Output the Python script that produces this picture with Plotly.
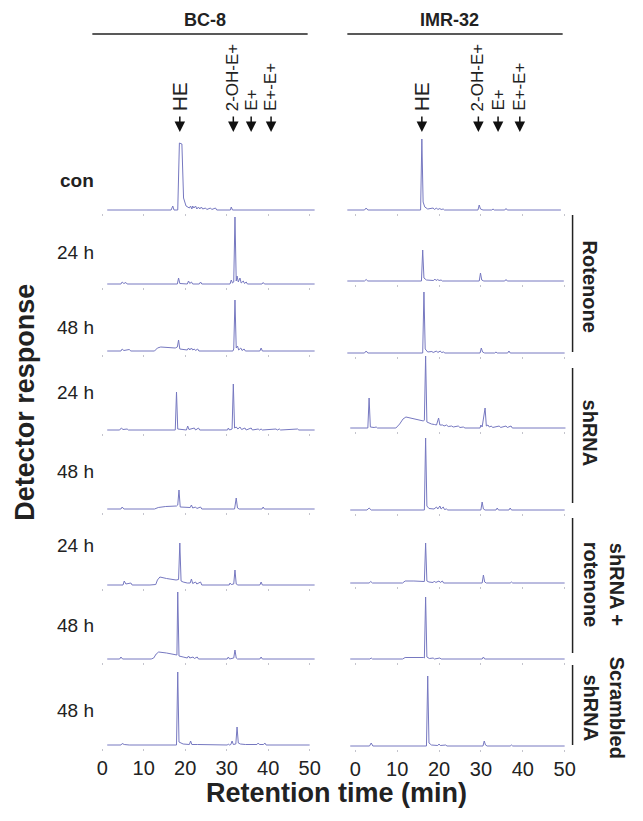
import plotly.graph_objects as go

# chromatograms: (retention time in min, detector response)
BC8_CON = [(1.2, 0), (16.6, 0), (17.0, 4), (17.3, 0), (18.2, 0), (18.6, 67), (19.2, 66), (19.6, 12), (20.2, 4),
           (21.0, 2), (21.3, 4), (21.6, 1), (21.8, 4), (22.1, 2), (22.5, 4), (22.8, 1), (23.2, 3), (23.5, 1),
           (23.9, 3), (24.2, 1), (24.9, 2), (25.2, 0.5), (26.1, 2), (26.4, 0.5), (27.3, 2), (27.6, 0),
           (30.9, 0), (31.1, 3), (31.4, 0), (51.2, 0)]
BC8_ROT24 = [(1.2, 0), (4.5, 0), (4.8, 2), (5.2, 0.5), (5.7, 1.5), (6.0, 0), (18.1, 0), (18.4, 6), (18.7, 0.5),
             (20.5, 0), (20.8, 3), (21.1, 0.5), (21.5, 2), (21.8, 0), (23.4, 0), (23.7, 2), (24.0, 0),
             (30.8, 0), (31.1, 4), (31.4, 1), (31.7, 2), (32.0, 67), (32.3, 3), (32.5, 8), (32.8, 2), (33.2, 6),
             (33.5, 1), (34.0, 3), (34.3, 0.5), (34.7, 2), (35.0, 0), (38.5, 0), (38.8, 1.5), (39.1, 0), (51.2, 0)]
BC8_ROT48 = [(1.2, 0), (4.5, 0), (4.8, 2), (5.2, 0.5), (6.5, 1.5), (6.9, 0), (12.6, 0), (13.3, 3), (14.1, 4),
             (15.5, 3.5), (17.6, 3), (18.1, 4), (18.4, 11), (18.7, 2), (19.5, 1.5), (20.5, 1), (20.8, 3),
             (21.1, 1), (21.5, 3), (21.8, 1), (22.2, 2), (22.5, 0.5), (23.0, 2), (23.3, 0), (31.5, 0), (31.7, 2),
             (32.0, 51), (32.3, 3), (32.6, 5), (32.9, 1), (33.4, 3), (33.7, 0.5), (34.2, 2), (34.5, 0),
             (38.0, 0), (38.3, 3), (38.6, 0), (51.2, 0)]
BC8_SH24 = [(1.2, 0), (4.2, 0), (4.6, 2), (5.0, 0.5), (6.0, 1), (6.3, 0), (17.6, 0), (17.9, 38), (18.2, 1),
            (20.3, 0), (20.6, 4), (20.9, 0.5), (22.2, 2), (22.5, 0), (23.2, 2), (23.5, 0), (30.2, 0), (30.4, 2),
            (30.7, 0), (31.3, 1), (31.6, 46), (31.9, 2), (32.3, 3), (32.7, 1), (33.2, 3), (33.6, 0.5),
            (34.4, 2), (34.7, 0), (35.9, 2), (36.2, 0), (37.6, 1), (37.9, 0), (38.3, 1), (38.6, 0),
            (41.9, 1), (42.2, 0), (42.7, 1), (43.0, 0), (47.1, 1), (47.4, 0), (51.2, 0)]
BC8_SH48 = [(1.2, 0), (4.5, 0), (4.8, 2), (5.2, 0), (12.6, 0), (13.5, 1.5), (15.3, 2.5), (17.9, 3), (18.2, 4),
            (18.5, 19), (18.8, 2), (21.2, 1.5), (21.5, 4), (21.8, 1), (22.5, 2), (22.8, 0.5), (23.7, 2),
            (24.0, 0), (31.9, 0), (32.3, 11), (32.6, 1), (33.0, 0), (38.5, 0), (38.8, 2), (39.1, 0), (51.2, 0)]
BC8_SHROT24 = [(1.2, 0), (5.0, 0), (5.3, 4), (5.7, 1), (6.9, 2), (7.2, 0), (11.5, 0), (12.9, 0.5), (13.3, 5),
               (13.9, 8), (15.5, 6.5), (17.8, 5), (18.4, 5.5), (18.7, 42), (19.0, 4), (19.5, 3), (20.5, 2),
               (21.2, 2), (21.5, 6), (21.8, 1.5), (22.5, 3), (22.8, 1), (23.7, 3), (24.0, 0), (30.6, 0),
               (30.8, 2), (31.1, 0.5), (31.7, 1), (32.0, 15), (32.3, 1), (32.7, 0), (38.0, 0), (38.3, 3),
               (38.6, 0), (51.2, 0)]
BC8_SHROT48 = [(1.2, 0), (4.2, 0), (4.5, 2), (4.9, 0), (11.8, 0), (12.4, 1), (13.0, 5), (13.6, 7), (15.5, 6),
               (17.6, 4.5), (18.0, 4), (18.2, 67), (18.5, 3), (19.5, 2), (20.5, 1), (20.8, 3), (21.1, 1),
               (21.9, 2), (22.2, 0.5), (22.9, 2), (23.2, 0), (30.1, 0), (30.4, 2), (30.7, 0), (31.7, 1),
               (32.0, 9), (32.3, 1), (32.6, 0), (38.0, 0), (38.3, 2), (38.6, 0), (51.2, 0)]
BC8_SCR48 = [(1.2, 0), (4.5, 0), (4.8, 1.5), (5.3, 0.5), (6.5, 0), (17.9, 0), (18.2, 73), (18.5, 3), (19.5, 1),
             (21.0, 0.5), (21.3, 4), (21.6, 0.5), (23.0, 0.5), (30.2, 0), (30.4, 1), (30.7, 0), (31.0, 0.5),
             (31.3, 4), (31.6, 0.5), (32.2, 1), (32.5, 18), (32.8, 2), (33.3, 1), (34.5, 0.5), (37.3, 0.5),
             (37.6, 2), (37.9, 0.5), (38.9, 0.5), (39.2, 2), (39.5, 0), (50.0, 0)]

IMR_CON = [(-1.9, 0), (2.2, 0), (2.6, 2), (3.0, 0), (15.6, 0), (15.9, 71), (16.2, 8), (16.6, 3), (17.3, 1),
           (18.6, 2), (18.9, 0.5), (19.4, 2), (19.7, 0.5), (20.2, 1.5), (20.5, 0.5), (21.0, 1), (21.3, 0),
           (29.3, 0), (29.6, 5), (29.9, 1), (30.5, 0), (32.6, 0), (32.9, 1), (33.2, 0), (35.7, 0), (36.0, 1.5),
           (36.3, 0), (49.1, 0)]
IMR_ROT24 = [(-1.9, 0), (2.2, 0), (2.6, 1.5), (3.0, 0), (15.8, 0), (16.1, 31), (16.4, 3), (17.0, 1), (18.7, 0.5),
             (19.0, 2), (19.3, 0.5), (19.7, 1.5), (20.0, 0.5), (20.5, 1), (20.8, 0), (29.6, 0), (29.9, 8),
             (30.2, 1), (30.7, 0), (35.7, 0), (36.0, 1.5), (36.3, 0), (49.8, 0)]
IMR_ROT48 = [(-1.9, 0), (2.2, 0), (2.6, 2), (3.0, 0), (16.1, 0), (16.4, 61), (16.7, 4), (17.3, 1), (18.3, 1.5),
             (18.6, 0.5), (19.4, 2), (19.7, 0.5), (20.3, 2), (20.6, 0.5), (21.1, 1), (21.4, 0), (29.8, 0),
             (30.1, 5), (30.4, 1), (30.9, 0), (33.3, 0), (33.6, 1), (33.9, 0), (36.4, 0), (36.7, 2), (37.0, 0),
             (50.0, 0)]
IMR_SH24 = [(-1.2, 0), (3.0, 0), (3.3, 30), (3.6, 1), (4.5, 0.5), (5.0, 1), (5.3, 0), (9.7, 0), (10.6, 4),
            (11.4, 9), (12.1, 11), (13.5, 9.5), (15.0, 8), (16.3, 7), (16.5, 8), (16.8, 72), (17.1, 6),
            (17.6, 5), (18.2, 4), (18.9, 3.5), (19.4, 3), (19.9, 10), (20.2, 3), (20.9, 3), (21.2, 2),
            (21.8, 3), (22.2, 1.5), (23.0, 2), (23.4, 1), (24.6, 2), (25.0, 0.5), (25.8, 1), (26.2, 0),
            (29.8, 0), (30.0, 3), (30.3, 1), (31.0, 20), (31.3, 2), (31.7, 3), (32.0, 1), (32.5, 2),
            (32.8, 0.5), (34.4, 2), (34.7, 0.5), (36.0, 2), (36.3, 0.5), (37.2, 2), (37.5, 0), (50.2, 0)]
IMR_SH48 = [(-1.2, 0), (2.8, 0), (3.3, 2), (3.8, 0), (16.5, 0), (16.8, 72), (17.1, 4), (17.6, 1.5), (18.8, 1),
            (19.4, 3), (19.7, 1), (20.2, 4), (20.5, 1), (21.0, 3), (21.3, 0.5), (21.8, 1), (22.1, 0), (30.0, 0),
            (30.3, 8), (30.6, 1), (31.0, 0), (33.6, 0), (33.9, 2), (34.2, 0), (36.7, 0), (37.0, 2), (37.3, 0),
            (50.0, 0)]
IMR_SHROT24 = [(-1.2, 0), (3.3, 0), (3.7, 1.5), (4.1, 0), (11.3, 0), (11.9, 2), (14.0, 2), (16.3, 1.5),
               (16.5, 1.5), (16.8, 40), (17.1, 2), (17.6, 1), (18.6, 0.5), (18.9, 2), (19.2, 0.5), (20.0, 2),
               (20.3, 0.5), (20.8, 2), (21.1, 0), (30.3, 0), (30.6, 8), (30.9, 1), (31.3, 0), (37.0, 0),
               (37.3, 1), (37.6, 0), (50.0, 0)]
IMR_SHROT48 = [(-1.2, 0), (3.5, 0), (3.8, 1), (4.1, 0), (11.3, 0), (11.9, 1.5), (16.3, 1.5), (16.5, 1),
               (16.8, 62), (17.1, 2), (17.7, 0.5), (18.6, 1), (18.9, 0), (20.2, 1), (20.5, 0), (30.3, 0),
               (30.6, 2), (30.9, 0), (50.0, 0)]
IMR_SCR48 = [(-1.2, 0), (3.4, 0), (3.8, 3), (4.2, 0), (17.0, 0), (17.3, 70), (17.6, 3), (18.2, 1), (19.7, 0.5),
             (20.0, 2), (20.3, 0.5), (21.6, 1), (21.9, 0), (30.5, 0), (30.8, 5), (31.1, 1), (31.5, 0), (37.0, 0),
             (37.3, 1), (37.6, 0), (50.0, 0)]

cell_lines = ["BC-8", "IMR-32"]
row_labels = ["con", "24 h", "48 h", "24 h", "48 h", "24 h", "48 h", "48 h"]
bc8_traces = [BC8_CON, BC8_ROT24, BC8_ROT48, BC8_SH24, BC8_SH48, BC8_SHROT24, BC8_SHROT48, BC8_SCR48]
imr_traces = [IMR_CON, IMR_ROT24, IMR_ROT48, IMR_SH24, IMR_SH48, IMR_SHROT24, IMR_SHROT48, IMR_SCR48]
compounds = ["HE", "2-OH-E+", "E+", "E+-E+"]
bc8_marks = [18.7, 31.6, 35.9, 40.7]
imr_marks = [15.9, 29.4, 34.1, 39.3]
groups = ["Rotenone", "shRNA", "shRNA +<br>rotenone", "Scrambled<br>shRNA"]
time_ticks = [0, 10, 20, 30, 40, 50]

W, H = 643, 821
OFF = 8  # the page body adds an 8 px margin
FONT = "Liberation Sans, Arial, sans-serif"
LINE = "rgb(118,120,192)"


def px(p):
    return (p - OFF) / W


def py(p):
    return 1 - (p - OFF) / H


def ax_name(n):
    return "" if n == 1 else str(n)


# pixel layout of the two columns (x=0 min position, px per minute) and row baselines
col_zero = [103, 358]
col_scale = [4.18, 4.22]
col_base = [[210, 284, 351, 430, 509, 585, 659, 745],
            [210, 281, 353, 428, 510, 583, 659, 746]]
xr = [-2.5, 51.5]

fig = go.Figure()
layout = {}
for c, traces in enumerate([bc8_traces, imr_traces]):
    for r, pts in enumerate(traces):
        n = c * 8 + r + 1
        a = ax_name(n)
        fig.add_trace(go.Scatter(x=[p[0] for p in pts], y=[p[1] for p in pts], mode="lines",
                                 line=dict(color=LINE, width=1), xaxis="x" + a, yaxis="y" + a,
                                 showlegend=False, hoverinfo="skip"))
        x0 = col_zero[c] + xr[0] * col_scale[c]
        x1 = col_zero[c] + xr[1] * col_scale[c]
        b = col_base[c][r]
        layout["xaxis" + a] = dict(domain=[px(x0), px(x1)], range=xr, anchor="y" + a,
                                   showgrid=False, zeroline=False, showline=False,
                                   ticks="outside", ticklen=2, tickcolor="#c4c4cc",
                                   tickvals=time_ticks, showticklabels=(r == 7),
                                   tickfont=dict(family=FONT, size=20, color="#222"))
        layout["yaxis" + a] = dict(domain=[py(b + 3), py(b - 77)], range=[-3, 77], anchor="x" + a,
                                   visible=False)

fig.update_layout(**layout)


def label(text, x, y, size, angle=0, xanchor="center", yanchor="middle", xref="paper"):
    return dict(text=text, x=x, y=y, xref=xref, yref="paper", showarrow=False, textangle=angle,
                xanchor=xanchor, yanchor=yanchor, font=dict(family=FONT, size=size, color="#222"))


ann = []
shapes = []
# column headers with rules
for name, cx, (l, rr) in zip(cell_lines, [207, 453], [(93, 310), (350, 567)]):
    ann.append(label("<b>%s</b>" % name, px(cx), py(20), 18))
    shapes.append(dict(type="line", xref="paper", yref="paper", x0=px(l), x1=px(rr), y0=py(34), y1=py(34),
                       line=dict(color="#222", width=1.5)))

# compound markers
for xa, marks in [("x", bc8_marks), ("x9", imr_marks)]:
    for name, t in zip(compounds, marks):
        ann.append(dict(text="", x=t, y=py(132), xref=xa, yref="paper", showarrow=True,
                        ax=0, ay=-17, arrowhead=2, arrowsize=1.4, arrowwidth=1.5, arrowcolor="#111"))
        ann.append(label(name, t, py(113), 21 if name == "HE" else 17, angle=-90, yanchor="bottom", xref=xa))

# row labels
label_y = [180, 252, 327, 392, 472, 545, 625, 710]
for lab, yy in zip(row_labels, label_y):
    txt = "<b>%s</b>" % lab if lab == "con" else lab
    ann.append(label(txt, px(97), py(yy), 19, xanchor="right"))

# treatment brackets on the right
spans = [(215, 352), (368, 503), (518, 653), (665, 745)]
label_pos = [(595, 287), (595, 433), (609, 585), (609, 708)]
for g, (s0, s1), (lx, ly) in zip(groups, spans, label_pos):
    shapes.append(dict(type="line", xref="paper", yref="paper", x0=px(577), x1=px(577), y0=py(s0), y1=py(s1),
                       line=dict(color="#222", width=1.5)))
    ann.append(label("<b>%s</b>" % g, px(lx), py(ly), 20, angle=90))

# axis titles
ann.append(label("<b>Retention time (min)</b>", px(339), py(793), 27))
ann.append(label("<b>Detector response</b>", px(25), py(402), 27, angle=-90))

fig.update_layout(width=W, height=H, margin=dict(l=0, r=0, t=0, b=0),
                  paper_bgcolor="white", plot_bgcolor="rgba(0,0,0,0)",
                  annotations=ann, shapes=shapes, font=dict(family=FONT))

fig.write_html("out.html")
